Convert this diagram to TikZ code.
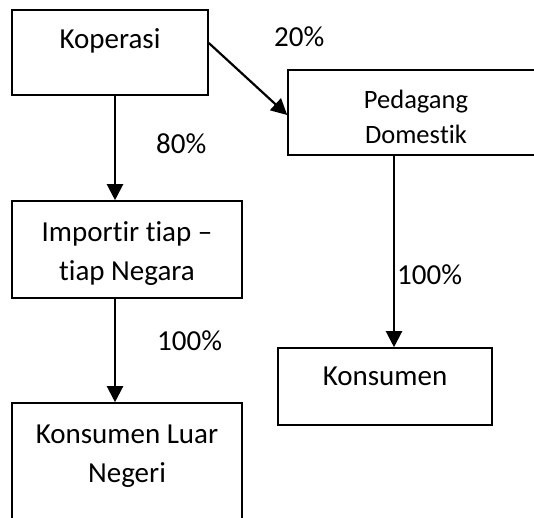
\documentclass[tikz,border=0pt]{standalone}
\usepackage{fontspec}
\setmainfont[Ligatures={NoCommon,NoRare,NoContextual}]{Carlito}
\usetikzlibrary{arrows.meta}
\newcommand{\nl}{\kern0pt}
\begin{document}
\begin{tikzpicture}[x=1pt,y=-1pt,
  boxnode/.style={draw,line width=1.6pt,inner sep=0pt,rectangle},
  txt/.style={anchor=base,inner sep=0pt,font=\fontsize{29}{34}\selectfont},
  smalltxt/.style={anchor=base,inner sep=0pt,font=\fontsize{26.5}{31}\selectfont},
  conn/.style={line width=2.2pt,-{Triangle[width=16pt,length=16pt]}}]
\useasboundingbox[fill=white] (0,0) rectangle (534,517);
\clip (0,0) rectangle (534,517);
% boxes
\node[boxnode,minimum width=196pt,minimum height=85pt] (kop) at (110,52.5) {};
\node[boxnode,minimum width=257pt,minimum height=85pt] (ped) at (416.5,112.5) {};
\node[boxnode,minimum width=230pt,minimum height=97pt] (imp) at (127,249.5) {};
\node[boxnode,minimum width=230pt,minimum height=140pt] (kln) at (127,473) {};
\node[boxnode,minimum width=214pt,minimum height=77pt] (kon) at (385,386.5) {};
% texts
\node[txt] (kopt) at (110,48) {Koperasi};
\node[smalltxt] (pedt1) at (416,108) {Pedagang};
\node[smalltxt] (pedt2) at (416,143) {Domes\nl t\nl ik};
\node[txt] (impt1) at (127,241) {Impor\nl t\nl ir t\nl iap –};
\node[txt] (impt2) at (127,280) {t\nl iap Negara};
\node[txt] (klnt1) at (127,443) {Konsumen Luar};
\node[txt] (klnt2) at (127,482) {Negeri};
\node[txt] (kont) at (385,385) {Konsumen};
% labels
\node[txt,anchor=base west] (l20) at (274,46) {20\%};
\node[txt,anchor=base west] (l80) at (156,153) {80\%};
\node[txt,anchor=base west] (l100a) at (157,350) {100\%};
\node[txt,anchor=base west] (l100b) at (397,284) {100\%};
% connectors
\draw[conn] ([xshift=5pt]kop.south) -- ([xshift=5pt]kop.south |- imp.north);
\draw[conn] ([yshift=9.5pt]kop.east) -- ([yshift=-2.5pt]ped.west);
\draw[conn] ([xshift=-12pt]imp.south) -- ([xshift=-12pt]imp.south |- kln.north);
\draw[conn] ([xshift=9pt]kon.north |- ped.south) -- ([xshift=9pt]kon.north);
\end{tikzpicture}
\end{document}
